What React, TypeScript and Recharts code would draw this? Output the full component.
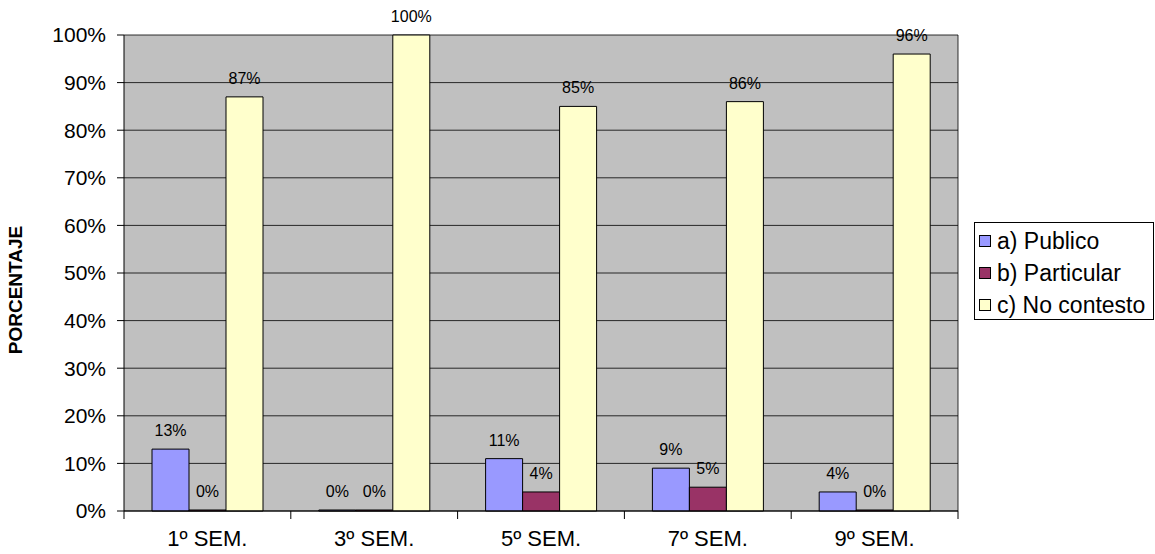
import React from 'react'
import {
  BarChart,
  Bar,
  XAxis,
  YAxis,
  CartesianGrid,
  LabelList,
} from 'recharts'

const semestres = ['1º SEM.', '3º SEM.', '5º SEM.', '7º SEM.', '9º SEM.']
const publico = [13, 0, 11, 9, 4]
const particular = [0, 0, 4, 5, 0]
const noContesto = [87, 100, 85, 86, 96]
const yTicks = [0, 10, 20, 30, 40, 50, 60, 70, 80, 90, 100]

const SERIES = [
  { key: 'publico', name: 'a) Publico', color: '#9999FF' },
  { key: 'particular', name: 'b) Particular', color: '#993366' },
  { key: 'noContesto', name: 'c) No contesto', color: '#FFFFCC' },
]

const data = semestres.map((s, i) => ({
  sem: s,
  publico: publico[i],
  particular: particular[i],
  noContesto: noContesto[i],
}))

const FONT = '"Liberation Sans", Arial, sans-serif'
const W = 1155
const H = 554
const X_HEIGHT = 43
const MARGIN = { top: 35, right: 197, bottom: 0, left: 0 }
const Y_WIDTH = 124
const HALF_BAND = (W - MARGIN.right - Y_WIDTH) / semestres.length / 2

function XTick(props: any) {
  const { x, y, payload, index } = props
  return (
    <g>
      <line x1={x - HALF_BAND} x2={x - HALF_BAND} y1={y} y2={y + 8} stroke="#000" />
      {index === semestres.length - 1 && (
        <line x1={x + HALF_BAND} x2={x + HALF_BAND} y1={y} y2={y + 8} stroke="#000" />
      )}
      <text x={x} y={y + 35} textAnchor="middle" fontSize={22} fill="#000" fontFamily={FONT}>
        {payload.value}
      </text>
    </g>
  )
}

// legend drawn as a plain box beside the chart so it does not eat plot space
function LegendBox() {
  return (
    <div
      style={{
        position: 'absolute',
        left: 974,
        top: 222,
        border: '1px solid #000',
        width: 180,
        height: 98,
        background: '#fff',
        fontFamily: FONT,
        fontSize: 23,
        paddingTop: 2,
        boxSizing: 'border-box',
      }}
    >
      {SERIES.map((s) => (
        <div key={s.key} style={{ display: 'flex', alignItems: 'center', height: 32, whiteSpace: 'nowrap' }}>
          <span
            style={{
              display: 'inline-block',
              width: 10,
              height: 10,
              border: '1px solid #000',
              background: s.color,
              marginLeft: 4,
              marginRight: 6,
              flexShrink: 0,
            }}
          />
          <span>{s.name}</span>
        </div>
      ))}
    </div>
  )
}

export default function App() {
  return (
    <div style={{ position: 'absolute', left: 0, top: 0, width: W, height: H, background: '#fff' }}>
      <BarChart
        width={W}
        height={H}
        data={data}
        margin={MARGIN}
        barCategoryGap={28}
        barGap={0}
      >
        <CartesianGrid
          fill="#C0C0C0"
          stroke="#000"
          strokeOpacity={0.8}
          verticalCoordinatesGenerator={({ offset }: any) => [offset.left + offset.width]}
        />
        <XAxis
          dataKey="sem"
          height={X_HEIGHT}
          axisLine={{ stroke: '#000' }}
          tickLine={false}
          tickSize={0}
          tickMargin={0}
          tick={<XTick />}
          interval={0}
        />
        <YAxis
          width={Y_WIDTH}
          domain={[0, 100]}
          ticks={yTicks}
          interval={0}
          axisLine={{ stroke: '#000' }}
          tickLine={{ stroke: '#000' }}
          tickSize={7}
          tickMargin={11}
          tickFormatter={(v) => `${v}%`}
          tick={{ fontSize: 21, fill: '#000', fontFamily: FONT }}
          label={{
            content: () => (
              <text
                x={22}
                y={290}
                transform="rotate(-90 22 290)"
                textAnchor="middle"
                fontSize={19}
                fontWeight="bold"
                fill="#000"
                fontFamily={FONT}
              >
                PORCENTAJE
              </text>
            ),
          }}
        />
        {SERIES.map((s) => (
          <Bar
            key={s.key}
            dataKey={s.key}
            name={s.name}
            fill={s.color}
            stroke="#000"
            strokeWidth={1}
            minPointSize={1}
            isAnimationActive={false}
          >
            <LabelList
              dataKey={s.key}
              position="top"
              offset={13}
              formatter={(v: any) => `${v}%`}
              style={{ fontSize: 16, fill: '#000', fontFamily: FONT }}
            />
          </Bar>
        ))}
      </BarChart>
      <LegendBox />
    </div>
  )
}
